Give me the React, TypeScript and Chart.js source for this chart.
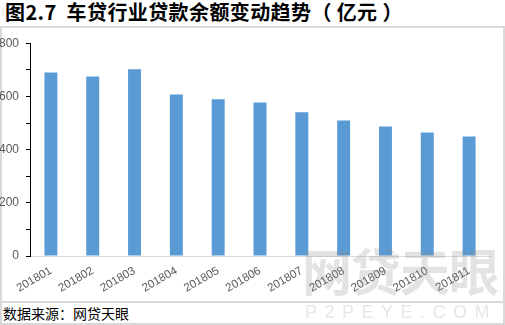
import React, { useEffect, useRef } from "react";
import { Chart, registerables } from "chart.js";

Chart.register(...registerables);

const TITLE = "图2.7  车贷行业贷款余额变动趋势（ 亿元 ）";
const SOURCE = "数据来源：网贷天眼";
const CATEGORIES = ["201801", "201802", "201803", "201804", "201805", "201806", "201807", "201808", "201809", "201810", "201811"];
const BALANCES = [690, 675, 702, 607, 589, 577, 540, 509, 487, 464, 449];
const Y_MIN = 0;
const Y_MAX = 800;
const Y_STEP = 100;
const Y_LABEL_STEP = 200;

export default function App() {
  const canvasRef = useRef<HTMLCanvasElement | null>(null);

  useEffect(() => {
    document.body.style.margin = "0";
    const ctx = canvasRef.current!.getContext("2d")!;
    const chart = new Chart(ctx, {
      type: "bar",
      data: {
        labels: CATEGORIES,
        datasets: [
          {
            data: BALANCES,
            backgroundColor: "#5B9BD5",
            barPercentage: 0.31,
            categoryPercentage: 1,
          },
        ],
      },
      options: {
        animation: false,
        responsive: false,
        maintainAspectRatio: false,
        layout: { padding: { top: 10, right: 13, left: 0, bottom: 0 } },
        plugins: { legend: { display: false }, tooltip: { enabled: false } },
        scales: {
          x: {
            grid: { display: false, drawTicks: false },
            border: { display: true, color: "#d9d9d9", width: 1 },
            ticks: {
              minRotation: 30,
              maxRotation: 30,
              autoSkip: false,
              color: "#595959",
              padding: 8,
              font: { family: "Liberation Sans", size: 11.5 },
            },
            afterFit: (s: any) => {
              s.height = 45;
            },
          },
          y: {
            min: Y_MIN,
            max: Y_MAX,
            grid: { display: true, drawOnChartArea: false, drawTicks: true, tickLength: 4, color: "#000000" },
            border: { display: true, color: "#000000", width: 1 },
            ticks: {
              stepSize: Y_STEP,
              autoSkip: false,
              color: "#595959",
              padding: 7,
              font: { family: "Liberation Sans", size: 12 },
              callback: (v: any) => (Number(v) % Y_LABEL_STEP === 0 ? String(v) : ""),
            },
            afterFit: (s: any) => {
              s.width = 30;
            },
          },
        },
      },
    });
    return () => chart.destroy();
  }, []);

  return (
    <div style={{ position: "relative", width: 505, height: 325, background: "#fff", overflow: "hidden", fontFamily: "'Noto Sans CJK SC', sans-serif" }}>
      <div style={{ position: "absolute", left: 5, top: -2, fontSize: 20, fontWeight: 700, color: "#000", whiteSpace: "pre", lineHeight: "28px", letterSpacing: 0.4 }}>{TITLE}</div>
      <div style={{ position: "absolute", left: 0, top: 26, width: 505, height: 2, background: "#d9d9d9" }} />
      <div style={{ position: "absolute", left: 0, top: 26, width: 2, height: 299, background: "#d9d9d9" }} />
      <div style={{ position: "absolute", left: 503, top: 26, width: 2, height: 299, background: "#d9d9d9" }} />
      <div style={{ position: "absolute", left: 0, top: 301, width: 505, height: 2, background: "#d9d9d9" }} />
      <div style={{ position: "absolute", left: 0, top: 323, width: 505, height: 2, background: "#d9d9d9" }} />
      <canvas ref={canvasRef} width={503} height={272} style={{ position: "absolute", left: 0, top: 29, width: 503, height: 272 }} />
      <div style={{ position: "absolute", left: 3, top: 303, fontSize: 14, color: "#000", lineHeight: "20px", whiteSpace: "pre" }}>{SOURCE}</div>
      <div style={{ position: "absolute", left: 302, top: 234, fontSize: 50, fontWeight: 700, color: "rgba(140,140,140,0.24)", letterSpacing: -1, lineHeight: "70px", pointerEvents: "none", whiteSpace: "pre" }}>网贷天眼</div>
      <div style={{ position: "absolute", left: 305, top: 300, fontSize: 18, fontWeight: 300, color: "rgba(140,140,140,0.22)", letterSpacing: 7.5, lineHeight: "24px", fontFamily: "'Liberation Sans', sans-serif", pointerEvents: "none", whiteSpace: "pre" }}>P2PEYE.COM</div>
    </div>
  );
}
